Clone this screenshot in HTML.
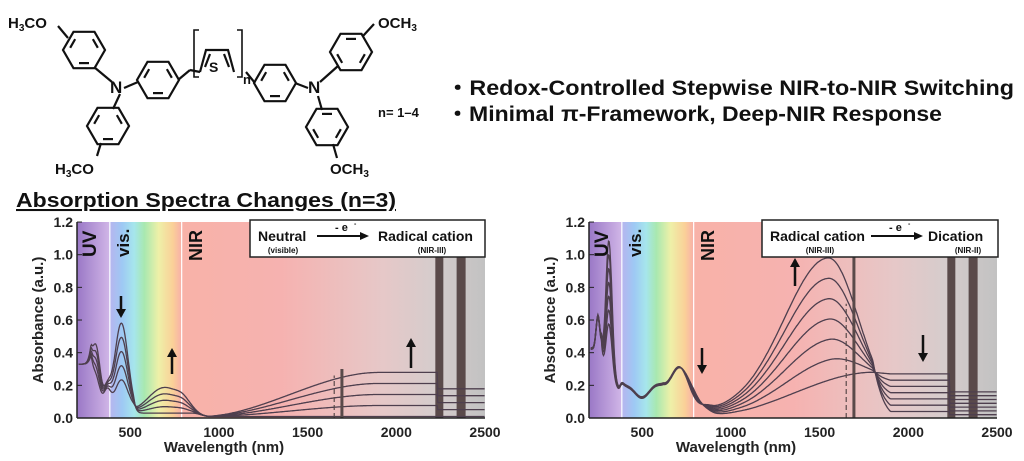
<!DOCTYPE html>
<html><head><meta charset="utf-8">
<style>
html,body{margin:0;padding:0;background:#fff;width:1024px;height:461px;overflow:hidden}
svg{display:block;font-family:"Liberation Sans","DejaVu Sans",sans-serif}
</style></head>
<body>
<svg id="s" width="1024" height="461" viewBox="0 0 1024 461" xmlns="http://www.w3.org/2000/svg">
<defs>
<linearGradient id="bg" x1="0" x2="1" y1="0" y2="0">
<stop offset="0" stop-color="#9a78c6"/>
<stop offset="0.078" stop-color="#cfb4e6"/>
<stop offset="0.079" stop-color="#b8b4ee"/>
<stop offset="0.11" stop-color="#9ec8f4"/>
<stop offset="0.14" stop-color="#a6e6ec"/>
<stop offset="0.165" stop-color="#a8e8b0"/>
<stop offset="0.2" stop-color="#eef0a8"/>
<stop offset="0.235" stop-color="#fad098"/>
<stop offset="0.255" stop-color="#f8b2a8"/>
<stop offset="0.5" stop-color="#f6b2b0"/>
<stop offset="0.75" stop-color="#e6c8c8"/>
<stop offset="0.87" stop-color="#d6cccc"/>
<stop offset="1" stop-color="#c2c2c2"/>
</linearGradient>
</defs>
<g id="mol" stroke="#111" stroke-width="2.2" fill="none"></g>
<g font-weight="bold" fill="#111">
<text x="8" y="28" font-size="15">H<tspan font-size="10" dy="3">3</tspan><tspan dy="-3">CO</tspan></text>
<text x="55" y="174" font-size="15">H<tspan font-size="10" dy="3">3</tspan><tspan dy="-3">CO</tspan></text>
<text x="378" y="28" font-size="15">OCH<tspan font-size="10" dy="3">3</tspan></text>
<text x="330" y="174" font-size="15">OCH<tspan font-size="10" dy="3">3</tspan></text>
<text x="110" y="93" font-size="17">N</text>
<text x="308" y="93" font-size="17">N</text>
<text x="209" y="72" font-size="14">S</text>
<text x="243" y="84" font-size="13">n</text>
<text x="378" y="117" font-size="13">n= 1–4</text>
<text x="446" y="95" font-size="21" textLength="568" lengthAdjust="spacingAndGlyphs">・Redox-Controlled Stepwise NIR-to-NIR Switching</text>
<text x="446" y="121" font-size="21" textLength="496" lengthAdjust="spacingAndGlyphs">・Minimal π-Framework, Deep-NIR Response</text>
<text x="16" y="207" font-size="20.5" text-decoration="underline" textLength="380" lengthAdjust="spacingAndGlyphs">Absorption Spectra Changes (n=3)</text>
</g>
<g id="c1"></g><g id="c2"></g>
</svg>
<script>
const NS="http://www.w3.org/2000/svg";
function el(p,t,a,txt){const e=document.createElementNS(NS,t);for(const k in a)e.setAttribute(k,a[k]);if(txt!==undefined)e.textContent=txt;p.appendChild(e);return e;}
const mol=document.getElementById('mol');
function hex(cx,cy,r,rot,dbl){let pts=[];for(let i=0;i<6;i++){const a=(rot+60*i)*Math.PI/180;pts.push([cx+r*Math.cos(a),cy+r*Math.sin(a)]);}
el(mol,'polygon',{points:pts.map(p=>p.join(',')).join(' ')});
dbl.forEach(i=>{const p=pts[i],q=pts[(i+1)%6];const f=0.72;const s=0.17;const a=[cx+(p[0]-cx)*f,cy+(p[1]-cy)*f],b=[cx+(q[0]-cx)*f,cy+(q[1]-cy)*f];
const m=[a[0]+(b[0]-a[0])*s,a[1]+(b[1]-a[1])*s],n=[b[0]+(a[0]-b[0])*s,b[1]+(a[1]-b[1])*s];el(mol,'line',{x1:m[0],y1:m[1],x2:n[0],y2:n[1]});});return pts;}
function ln(a,b,c,d){el(mol,'line',{x1:a,y1:b,x2:c,y2:d});}
hex(84,50,21,-60,[0,2,4]);hex(108,126,21,-60,[0,2,4]);hex(158,80,21,0,[1,3,5]);
hex(275,83,21,0,[1,3,5]);hex(351,52,21,-120,[0,2,4]);hex(327,127,21,-120,[0,2,4]);
ln(58,26,68,38);ln(94,67,112,82);ln(120,94,113,109);ln(124,88,138,82);ln(178,80,190,70);
ln(101,143,97,156);
ln(255,83,246,72);ln(295,83,308,88);ln(320,82,338,66);ln(318,96,322,110);ln(363,36,374,24);ln(333,144,337,158);
el(mol,'path',{d:"M200 72 L206 50 L228 50 L234 72"});ln(210,54,205,67);ln(224,54,229,67);
el(mol,'path',{d:"M199 30 L194 30 L194 77 L199 77",'stroke-width':1.6});
el(mol,'path',{d:"M237 30 L242 30 L242 77 L237 77",'stroke-width':1.6});
ln(190,70,200,72);
function g(x,m,s,h){return h*Math.exp(-((x-m)*(x-m))/(2*s*s));}
function sig(x,m,w){return 1/(1+Math.exp(-(x-m)/w));}
function sm(x,a,b){let t=(x-a)/(b-a);t=Math.max(0,Math.min(1,t));return t*t*(3-2*t);}
function radical(l,s){
 let a=0.3*(l<280?1:Math.exp(-(l-280)/25))+g(l,310,22,0.32-0.18*s)+g(l,450,38,0.55-0.35*s)+0.12*g(l,370,20,1);
 a*= (l<520?1:Math.exp(-(l-520)/25));
 a+=0.03+s*(0.13*g(l,710,75,1)+0.05*g(l,800,40,1)+0.05*g(l,620,70,1));
 a*= (l<850?1:1-0.7*sm(l,850,950));
 a+=s*(0.27*sm(l,900,1900));
 if(l>2230)a-=s*0.1;
 return a;}
function dication(l,u){
 let a=0.4*(l<270?1:Math.exp(-(l-270)/25))+g(l,250,10,0.2)+g(l,312,18,0.45+0.5*u)+g(l,355,25,0.14);
 a+=(0.13+0.03*Math.sin((l-380)/25))*sig(l,375,6)*(l<620?1:Math.exp(-(l-620)/150));
 a+=0.2*g(l,705,55,1)+0.06*g(l,790,40,1)*(1-u);
 a*= (l<850?1:1-0.6*sm(l,850,930));
 const R=0.02+0.26*sm(l,900,1800);
 const D=0.95*(l<1550?g(l,1550,250,1):g(l,1550,170,1))+0.03;
 let v=(1-u)*R+u*D; const tail=(1-u)*0.27+u*0.04;
 if(l>1900)v=tail; else if(l>1800){const t=(l-1800)/100;v=v*(1-t)+tail*t;}
 if(l>2230)v-=(1-u)*0.09+0.02;
 return a+v;}
function chart(id,ox,n,fn,legend){
 const G=document.getElementById(id);
 const X=l=>ox+(l-200)*0.17739,Y=a=>418-a*163.3;
 el(G,'rect',{x:ox,y:222,width:408,height:196,fill:"url(#bg)"});
 el(G,'line',{x1:X(385),y1:222,x2:X(385),y2:418,stroke:"#fff","stroke-width":1.2});
 el(G,'line',{x1:X(790),y1:222,x2:X(790),y2:418,stroke:"#fff","stroke-width":1.2});
 el(G,'rect',{x:X(2220),y:222,width:8,height:196,fill:"#5a4a4a"});
 el(G,'rect',{x:X(2340),y:222,width:9,height:196,fill:"#5a4a4a"});
 for(let k=0;k<n;k++){const s=k/(n-1);let d="";
  for(let l=210;l<=2500;l+=4){let a=fn(l,s);if(a<0)a=0;d+=(l==210?"M":"L")+X(l).toFixed(1)+" "+Y(a).toFixed(1);}
  el(G,'path',{d:d,fill:"none",stroke:"#4e3f4e","stroke-width":1.3});}
 const top=id=='c2'?1.0:0.3;
 el(G,'line',{x1:X(1650),y1:Y(0),x2:X(1650),y2:Y(id=='c2'?0.7:0.26),stroke:"#5a4a4a","stroke-width":1.2,"stroke-dasharray":"5,3"});
 el(G,'rect',{x:X(1685),y:Y(top),width:3,height:Y(0)-Y(top),fill:"#5a4a4a"});
 el(G,'line',{x1:ox,y1:222,x2:ox,y2:418,stroke:"#222","stroke-width":1.5});
 el(G,'line',{x1:ox,y1:418,x2:ox+408,y2:418,stroke:"#222","stroke-width":1.5});
 ["0.0","0.2","0.4","0.6","0.8","1.0","1.2"].forEach((t,i)=>{el(G,'line',{x1:ox,y1:Y(i*0.2),x2:ox+5,y2:Y(i*0.2),stroke:"#222"});
  el(G,'text',{x:ox-4,y:Y(i*0.2)+5,"text-anchor":"end","font-size":14,"font-weight":"bold",fill:"#222"},t);});
 [500,1000,1500,2000,2500].forEach(t=>el(G,'text',{x:X(t),y:437,"text-anchor":"middle","font-size":14,"font-weight":"bold",fill:"#222"},t));
 el(G,'text',{x:ox+147,y:452,"text-anchor":"middle","font-size":15,"font-weight":"bold",fill:"#222"},"Wavelength (nm)");
 el(G,'text',{x:0,y:0,transform:`translate(${ox-34},320) rotate(-90)`,"text-anchor":"middle","font-size":15,"font-weight":"bold",fill:"#222"},"Absorbance (a.u.)");
 el(G,'text',{x:0,y:0,transform:`translate(${ox+19},257) rotate(-90)`,"font-size":19,"font-weight":"bold",fill:"#111"},"UV");
 el(G,'text',{x:0,y:0,transform:`translate(${ox+52},257) rotate(-90)`,"font-size":17,"font-weight":"bold",fill:"#111"},"vis.");
 el(G,'text',{x:0,y:0,transform:`translate(${ox+125},261) rotate(-90)`,"font-size":18,"font-weight":"bold",fill:"#111"},"NIR");
 const L=legend;
 el(G,'rect',{x:L.x,y:220,width:L.w,height:37,fill:"#fff",stroke:"#222","stroke-width":1.5});
 el(G,'text',{x:L.t1,y:241,"font-size":14,"font-weight":"bold",fill:"#111"},L.a);
 el(G,'text',{x:L.s1,y:253,"font-size":8,"font-weight":"bold",fill:"#111","text-anchor":"middle"},L.sa);
 el(G,'text',{x:L.t2,y:241,"font-size":14,"font-weight":"bold",fill:"#111"},L.b);
 el(G,'text',{x:L.s2,y:253,"font-size":8,"font-weight":"bold",fill:"#111","text-anchor":"middle"},L.sb);
 el(G,'line',{x1:L.ax,y1:236,x2:L.ax+45,y2:236,stroke:"#111","stroke-width":2});
 el(G,'path',{d:`M${L.ax+52} 236 L${L.ax+43} 232 L${L.ax+43} 240Z`,fill:"#111"});
 el(G,'text',{x:L.ax+18,y:231,"font-size":11,"font-weight":"bold",fill:"#111"},"- e");
 el(G,'text',{x:L.ax+37,y:226,"font-size":7,"font-weight":"bold",fill:"#111"},"-");
 L.arrows.forEach(a=>{const [x,y1,y2]=a;el(G,'line',{x1:x,y1:y1,x2:x,y2:y2,stroke:"#111","stroke-width":2.5});
  const dir=y2>y1?1:-1;el(G,'path',{d:`M${x} ${y2+dir*2} L${x-5} ${y2-dir*7} L${x+5} ${y2-dir*7}Z`,fill:"#111"});});
}
chart('c1',77,5,radical,{x:250,w:235,t1:258,a:"Neutral",s1:283,sa:"(visible)",ax:317,t2:378,b:"Radical cation",s2:432,sb:"(NIR-III)",
 arrows:[[121,296,316],[172,374,350],[411,368,340]]});
chart('c2',589,7,dication,{x:762,w:236,t1:770,a:"Radical cation",s1:820,sa:"(NIR-III)",ax:871,t2:928,b:"Dication",s2:968,sb:"(NIR-II)",
 arrows:[[702,348,372],[795,286,260],[923,335,360]]});
</script>
</body></html>
